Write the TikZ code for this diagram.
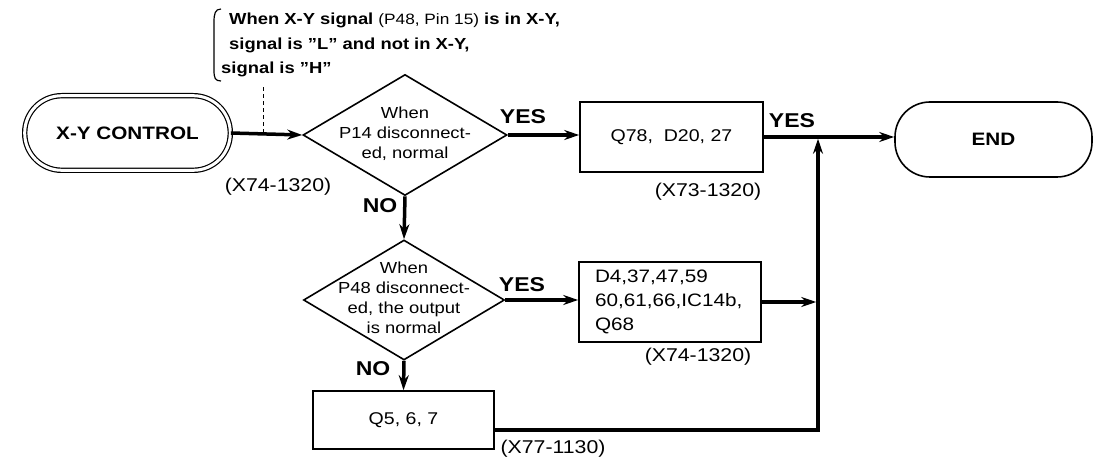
\documentclass[tikz,border=0pt]{standalone}
\usepackage{fontspec}
\setmainfont{Liberation Sans}[FakeStretch=1.15]
\usetikzlibrary{arrows.meta,shapes.geometric,calc,positioning}

% text of a decision box, kept out of the shape size
\newcommand{\dtext}[1]{\makebox[0pt]{\smash{\raisebox{-.25em}{\begin{tabular}{@{}c@{}}#1\end{tabular}}}}}

\begin{document}
\begin{tikzpicture}[x=1pt,y=-1pt,
    every node/.style={font=\fontsize{17}{20}\selectfont},
    term/.style={draw,line width=1.6pt,rounded corners=35pt,font=\fontsize{18}{20}\selectfont\bfseries},
    startterm/.style={term,double,double distance=3pt,line width=1.2pt,rounded corners=37pt},
    decide/.style={draw,diamond,line width=1.6pt,inner sep=0pt,font=\fontsize{16}{20}\selectfont},
    proc/.style={draw,rectangle,line width=1.6pt},
    flow/.style={line width=3.5pt,-{Stealth[length=15pt,width=10pt]}},
    leader/.style={line width=1pt,dash pattern=on 4pt off 3pt},
    brace/.style={line width=1.2pt},
    answer/.style={font=\fontsize{20}{20}\selectfont\bfseries},
    partno/.style={font=\fontsize{18.5}{20}\selectfont},
    note/.style={align=left,inner sep=0pt,font=\fontsize{16}{24.5}\selectfont\bfseries}]
  \useasboundingbox (0,0) rectangle (1112,462);

  % terminals
  \node[startterm,minimum width=205.6pt,minimum height=74.6pt] (ctrl) at (127.5,133) {X-Y CONTROL};
  \node[term,minimum width=197pt,minimum height=75pt] (end) at (993.5,139.5) {END};

  % decisions
  \node[decide,minimum width=204pt,minimum height=121pt] (p14) at (405,135)
    {\dtext{When\\P14 disconnect-\\ed, normal}};
  \node[decide,minimum width=201pt,minimum height=120pt] (p48) at (404,300)
    {\dtext{When\\P48 disconnect-\\ed, the output\\is normal}};

  % parts to check
  \node[proc,minimum width=183pt,minimum height=70pt] (q78) at (671.5,137) {Q78,\ \ D20, 27};
  \node[proc,text width=150pt,inner xsep=16pt,minimum height=80pt,align=left,
    font=\fontsize{18}{24}\selectfont] (d4) at (670,302) {D4,37,47,59\\60,61,66,IC14b,\\Q68};
  \node[proc,minimum width=181pt,minimum height=58pt] (q5) at (403.5,420) {Q5, 6, 7};

  % note on the X-Y signal
  \node[note,anchor=north west] (sig) at (229,13)
    {When X-Y signal {\fontsize{15}{24.5}\selectfont\mdseries(P48, Pin 15)} is in X-Y,\\
     signal is ''L'' and not in X-Y,\\
     \hspace*{-8pt}signal is ''H''};
  \draw[brace] (221,9) .. controls (215,9) and (214,14) .. (214,22) -- (214,70)
    .. controls (214,78) and (215,81) .. (221,81);

  \coordinate (tap) at (263,133);
  \coordinate (jtop) at (818,137);
  \coordinate (jbot) at (818,430);

  % flow
  \draw[flow] (ctrl.east) -- (p14.west);
  \draw[leader] (tap) -- ++(0,-46);
  \draw[flow] (p14.east) -- (p14.east -| q78.west);
  \draw[flow] (q78.east) -- (q78.east -| end.west);
  \draw[flow] (p14.south) -- (p48.north);
  \draw[flow] (p48.east) -- (p48.east -| d4.west);
  \draw[flow,shorten >=1.75pt] (d4.east) -- (d4.east -| jtop);
  \draw[flow] (p48.south) -- (q5.north);
  \draw[flow,shorten >=1.75pt] (q5.east |- jbot) -- (jbot) -- (jtop);

  % answers and board numbers
  \node[answer] (yes1) at (523,117) {YES};
  \node[answer] (yes2) at (522,285) {YES};
  \node[answer] (yes3) at (792,121) {YES};
  \node[answer] (no1) at (380,206) {NO};
  \node[answer] (no2) at (373,369) {NO};
  \node[partno] (ref1) at (278,187) {(X74-1320)};
  \node[partno] (ref2) at (708,192) {(X73-1320)};
  \node[partno] (ref3) at (698,357) {(X74-1320)};
  \node[partno] (ref4) at (553,449) {(X77-1130)};
\end{tikzpicture}
\end{document}
